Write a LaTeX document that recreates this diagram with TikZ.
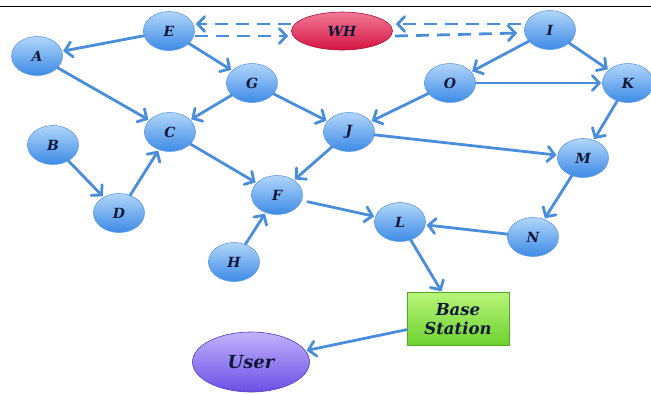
\documentclass[tikz,border=0pt]{standalone}
\usepackage{fontspec}
\setmainfont{DejaVu Serif}
\usetikzlibrary{shapes.geometric,arrows.meta}
\definecolor{edgec}{HTML}{4A8EDB}
\definecolor{ntop}{HTML}{B2D6FA}
\definecolor{nbot}{HTML}{3C8AE6}
\definecolor{nbord}{HTML}{5E9CE0}
\definecolor{txt}{HTML}{10183A}
\definecolor{rtop}{HTML}{F27A96}
\definecolor{rbot}{HTML}{D51443}
\definecolor{ptop}{HTML}{C0B2FA}
\definecolor{pbot}{HTML}{6B4FE6}
\definecolor{gtop}{HTML}{B8F57A}
\definecolor{gbot}{HTML}{6CD12E}
\begin{document}
\begin{tikzpicture}[x=1pt,y=-1pt,
  nd/.style={ellipse, minimum width=51pt, minimum height=39pt, inner sep=0pt,
    draw=nbord, line width=0.6pt, top color=ntop, bottom color=nbot, text=txt,
    font=\fontsize{14}{14}\selectfont\bfseries\itshape},
  ar/.style={draw=edgec, line width=2.8pt, line cap=round,
    -{Straight Barb[length=7pt,width=15pt,line cap=round]}, shorten >=1pt},
  da/.style={ar, line cap=butt, dash pattern=on 13pt off 8pt}
]
\fill[white] (0,0) rectangle (651,394);
\useasboundingbox (0,0) rectangle (651,394);
\draw[black, line width=1pt] (0,6) -- (651,6);

\node[nd] (E) at (169,31) {E};
\node[nd, minimum width=101pt, minimum height=38pt, top color=rtop, bottom color=rbot, draw=rbot!80!black] (WH) at (342,31) {WH};
\node[nd] (I) at (550,30) {I};
\node[nd] (A) at (37,56) {A};
\node[nd] (G) at (252,83) {G};
\node[nd] (O) at (450,83) {O};
\node[nd] (K) at (628,83) {K};
\node[nd] (C) at (170,132) {C};
\node[nd] (B) at (53,145) {B};
\node[nd] (J) at (349,132) {J};
\node[nd] (M) at (583,158) {M};
\node[nd] (F) at (277,195) {F};
\node[nd] (D) at (119,213) {D};
\node[nd] (L) at (400,222) {L};
\node[nd] (N) at (533,237) {N};
\node[nd] (H) at (234,262) {H};
\node[rectangle, minimum width=102pt, minimum height=53pt, inner sep=0pt,
  draw=gbot!80!black, line width=0.6pt, top color=gtop, bottom color=gbot, text=txt,
  align=center, font=\fontsize{16.5}{19}\selectfont\bfseries\itshape] (BS) at (458,319) {Base\\Station};
\node[nd, minimum width=117pt, minimum height=60pt, top color=ptop, bottom color=pbot,
  draw=pbot!80!black, font=\fontsize{18}{18}\selectfont\bfseries\itshape] (U) at (251,362) {User};

% dashed links with WH
\draw[da] ([yshift=7pt]WH.west) -- ([yshift=7pt]E.east);
\draw[da] ([yshift=-5pt]E.east) -- ([yshift=-5pt,xshift=-2pt]WH.west);
\draw[da] ([yshift=6pt,xshift=-3pt]I.west) -- ([yshift=7pt,xshift=2pt]WH.east);
\draw[da] ([yshift=-5pt,xshift=2pt]WH.east) -- ([yshift=-3pt,xshift=-6pt]I.west);

\draw[ar] (E) -- (A);
\draw[ar] (E) -- (G);
\draw[ar] (A) -- (C);
\draw[ar] (G) -- (C);
\draw[ar] (G) -- (J);
\draw[ar] (B) -- (D);
\draw[ar] (D) -- (C);
\draw[ar] (C) -- (F);
\draw[ar] (J) -- (F);
\draw[ar] (H) -- (F);
\draw[ar, shorten <=6pt] (F) -- (L);
\draw[ar] (I) -- (O);
\draw[ar] (I) -- (K);
\draw[ar] (O) -- (K);
\draw[ar] (O) -- (J);
\draw[ar] (J) -- (M);
\draw[ar] (K) -- (M);
\draw[ar] (M) -- (N);
\draw[ar] (N) -- (L);
\draw[ar] (L) -- (BS);
\draw[ar] (BS) -- (U);
\end{tikzpicture}
\end{document}
